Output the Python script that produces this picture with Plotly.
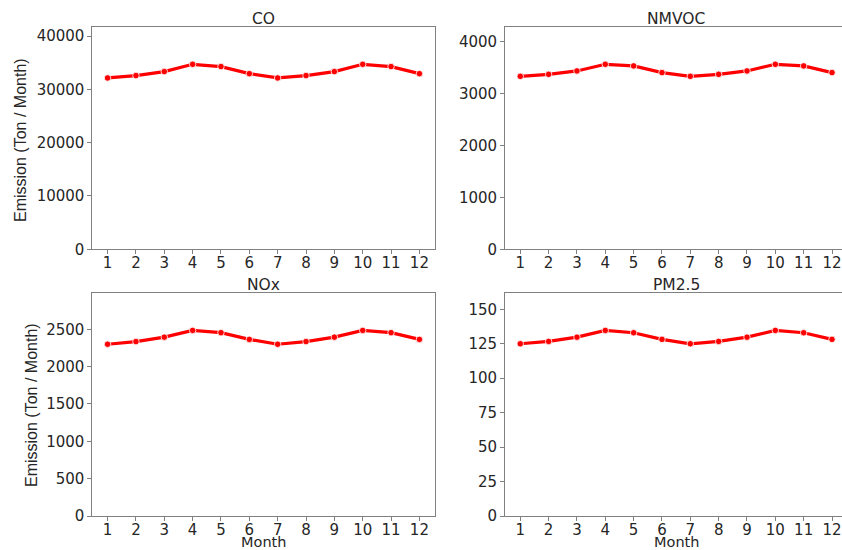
import plotly.graph_objects as go

months = [1, 2, 3, 4, 5, 6, 7, 8, 9, 10, 11, 12]
co = [32140, 32580, 33330, 34700, 34270, 32950, 32140, 32580, 33330, 34700, 34270, 32950]
nmvoc = [3332, 3371, 3436, 3564, 3533, 3404, 3332, 3371, 3436, 3564, 3533, 3404]
nox = [2300, 2335, 2395, 2485, 2455, 2365, 2300, 2335, 2395, 2485, 2455, 2365]
pm25 = [125.0, 126.7, 129.8, 134.7, 133.0, 128.2, 125.0, 126.7, 129.8, 134.7, 133.0, 128.2]
titles = ["CO", "NMVOC", "NOx", "PM2.5"]
dticks = [10000, 1000, 500, 25]
series = [co, nmvoc, nox, pm25]

W, H = 842, 559
S = H / 550.0  # map reference pixel rows onto figure rows
# plot boxes in reference pixels (left, right, top, bottom)
boxes = [(92, 435, 27.3, 249.3), (504.7, 842, 27.3, 249.3),
         (92, 435, 293.3, 516), (504.7, 842, 293.3, 516)]

fig = go.Figure()
tick_font = dict(family="DejaVu Sans", size=15, color="#262626")
axcol = "#808080"
annotations = []
for i, (vals, t, dt, box) in enumerate(zip(series, titles, dticks, boxes)):
    n = "" if i == 0 else str(i + 1)
    l, r, tp, bt = box
    fig.add_trace(go.Scatter(
        x=months, y=vals, mode="lines+markers",
        line=dict(color="#ff0000", width=3.2),
        marker=dict(color="#ff0000", size=6.5, line=dict(color="white", width=0.8)),
        xaxis="x" + n, yaxis="y" + n, showlegend=False))
    right_col = i % 2 == 1
    xr = [0.45, 12.55] if not right_col else [0.45, 12.55 - (847.6 - 842) / 28.4]
    fig.update_layout(**{
        "xaxis" + n: dict(domain=[l / W, r / W], range=xr, tickvals=months,
                          anchor="y" + n, showline=True, linecolor=axcol, linewidth=1.2,
                          mirror=True, ticks="outside", ticklen=3.5, tickcolor=axcol,
                          tickwidth=1, showgrid=False, zeroline=False, tickfont=tick_font,
                          ticklabelstandoff=-4),
        "yaxis" + n: dict(domain=[1 - bt * S / H, 1 - tp * S / H], range=[0, max(vals) * 1.2],
                          dtick=dt, tick0=0, tickformat="d", anchor="x" + n, showline=True,
                          linecolor=axcol, linewidth=1.2, mirror=(not right_col),
                          ticks="outside", ticklen=3.5, tickcolor=axcol, tickwidth=1,
                          showgrid=False, zeroline=False, tickfont=tick_font),
    })
    cx = (l + (r if not right_col else 847.6)) / 2
    annotations.append(dict(text=t, x=cx / W, y=1 - (tp - 8) * S / H, xref="paper", yref="paper",
                            showarrow=False, xanchor="center", yanchor="middle",
                            font=dict(family="DejaVu Sans", size=15.5, color="#262626")))
    if i >= 2:
        annotations.append(dict(text="Month", x=cx / W, y=1 - 542 * S / H, xref="paper",
                                yref="paper", showarrow=False, xanchor="center",
                                yanchor="middle", borderpad=0,
                                font=dict(family="DejaVu Sans", size=14.5, color="#262626")))

annotations.append(dict(text="Emission (Ton / Month)", x=21 / W, y=1 - 140 * S / H, xref="paper",
                        yref="paper", showarrow=False, textangle=-90, xanchor="center",
                        yanchor="middle",
                        font=dict(family="Liberation Sans Narrow, Liberation Sans", size=16,
                                  color="#262626")))
annotations.append(dict(text="Emission (Ton / Month)", x=31 / W, y=1 - 405 * S / H, xref="paper",
                        yref="paper", showarrow=False, textangle=-90, xanchor="center",
                        yanchor="middle",
                        font=dict(family="Liberation Sans Narrow, Liberation Sans", size=16,
                                  color="#262626")))

fig.update_layout(width=W, height=H, margin=dict(l=0, r=0, t=0, b=0, pad=0),
                  plot_bgcolor="white", paper_bgcolor="white",
                  annotations=annotations)
fig.write_html("out.html")
